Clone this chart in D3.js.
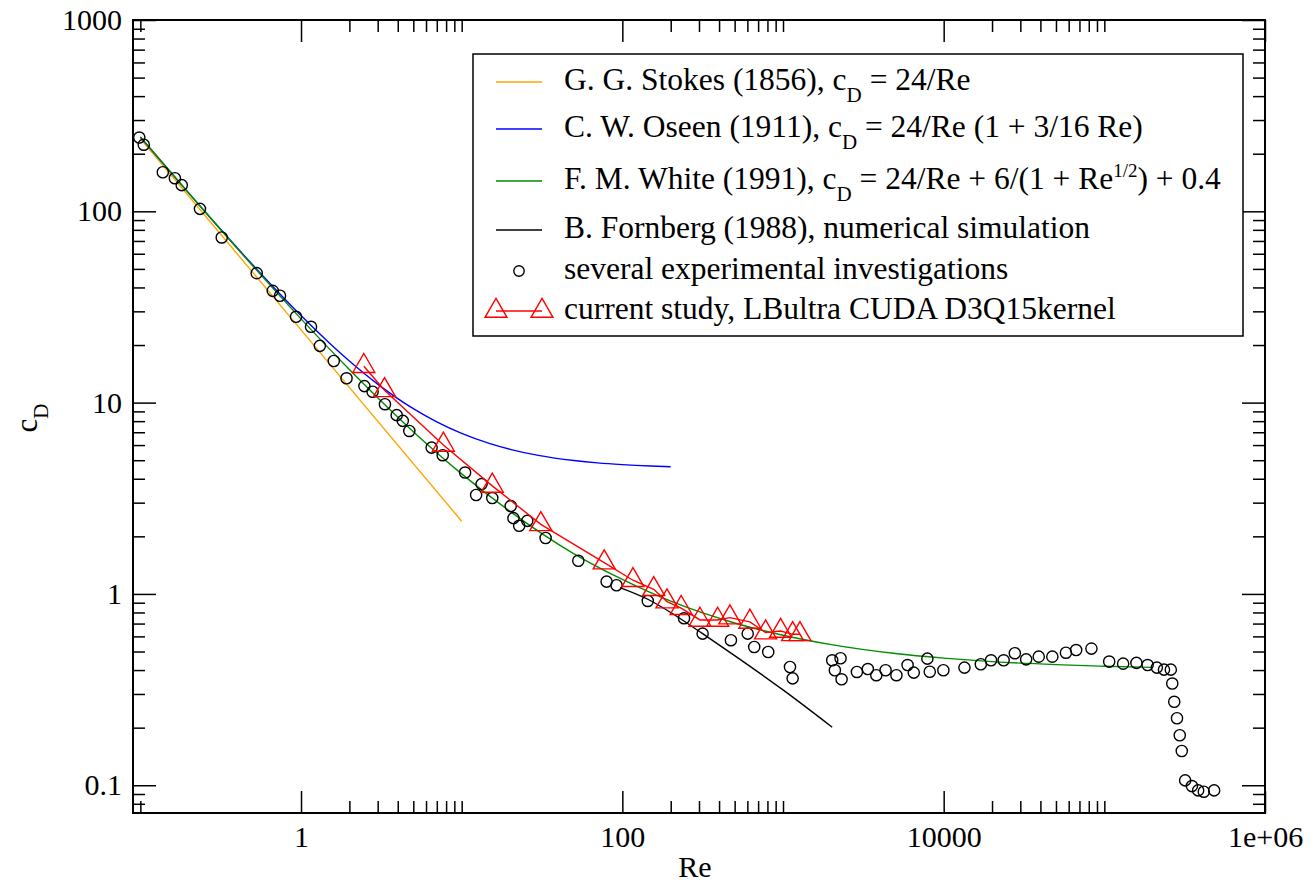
<!DOCTYPE html>
<html>
<head>
<meta charset="utf-8">
<script src="https://cdn.jsdelivr.net/npm/d3@7/dist/d3.min.js"></script>
<style>
  body { margin: 0; background: #fff; }
  svg { display: block; }
  svg text { font-family: "Liberation Serif", "Times New Roman", Tinos, "DejaVu Serif", "Noto Serif", serif !important; fill: #000; }
</style>
</head>
<body>
<svg id="chart" width="1314" height="882"></svg>
<script>
// axis ticks
const xMajorTicks = [1, 100, 10000, 1e6];
const xMajorLabels = ["1", "100", "10000", "1e+06"];
const xMinorTicks = [0.1, 2, 3, 4, 5, 6, 7, 8, 9, 10, 200, 300, 400, 500, 600, 700, 800, 900, 1000,
    20000, 30000, 40000, 50000, 60000, 70000, 80000, 90000, 100000];
const yMajorTicks = [0.1, 1, 10, 100, 1000];
const yMajorLabels = ["0.1", "1", "10", "100", "1000"];
const yMinorTicks = [0.08, 0.09, 0.2, 0.3, 0.4, 0.5, 0.6, 0.7, 0.8, 0.9, 2, 3, 4, 5, 6, 7, 8, 9,
    20, 30, 40, 50, 60, 70, 80, 90, 200, 300, 400, 500, 600, 700, 800, 900];

// G. G. Stokes
const stokesRe = [0.1, 1, 10];
const stokesCd = [240, 24, 2.4];

// C. W. Oseen
const oseenRe = [0.1, 0.2, 0.3, 0.5, 0.7, 1, 1.5, 2, 3, 5, 7, 10, 15, 20, 30, 50, 70, 100, 150, 200];
const oseenCd = [244.5, 124.5, 84.5, 52.5, 38.8, 28.5, 20.5, 16.5, 12.5, 9.3, 7.93, 6.9, 6.1, 5.7, 5.3, 4.98, 4.84, 4.74, 4.66, 4.62];

// F. M. White
const whiteRe = [0.1, 0.2, 0.5, 1, 2, 5, 10, 20, 50, 100, 200, 500, 1000, 2000, 5000, 1e4, 2e4, 5e4, 1e5, 2e5];
const whiteCd = [245, 124.6, 51.9, 27.4, 14.9, 7.05, 4.24, 2.70, 1.62, 1.19, 0.916, 0.705, 0.608, 0.543, 0.488, 0.462, 0.443, 0.427, 0.419, 0.413];

// B. Fornberg
const fornbergRe = [96.6, 144, 200, 316, 500, 1000, 2024];
const fornbergCd = [1.08, 0.938, 0.80, 0.62, 0.476, 0.315, 0.201];

// experiments (circles)
const expRe = [0.0985, 0.105, 0.138, 0.164, 0.181, 0.235, 0.321, 0.53, 0.667, 0.74, 0.931, 1.154, 1.31, 1.60, 1.92,
    2.48, 2.79, 3.33, 3.94, 4.30, 4.72, 6.50, 7.62, 10.5, 12.3, 13.3, 15.5, 20.2, 21.0, 22.8, 25.6, 33.3, 53.2,
    79.8, 92, 144, 242, 316, 474, 603, 662, 809, 1105, 1148, 2024, 2103, 2281, 2315,
    2884, 3373, 3808, 4349, 5080, 5963, 6516, 7916, 8193, 9955, 13470, 17030, 19710, 23620, 27720, 32600,
    39050, 47460, 57660, 66770, 83130, 107200, 130900, 158400, 186000, 212200, 235100, 259200, 264700,
    272300, 283300, 294700, 303400, 318400, 350800, 383500, 416000, 482400];
const expCd = [243, 223, 160, 149, 137, 103, 73, 47.5, 38.4, 36.2, 28.1, 24.9, 19.8, 16.5, 13.4,
    12.2, 11.4, 9.81, 8.6, 8.03, 7.11, 5.82, 5.31, 4.31, 3.29, 3.75, 3.17, 2.88, 2.49, 2.27, 2.41, 1.96, 1.49,
    1.16, 1.11, 0.919, 0.746, 0.62, 0.573, 0.62, 0.528, 0.497, 0.415, 0.362, 0.45, 0.399, 0.461, 0.358,
    0.391, 0.405, 0.376, 0.399, 0.376, 0.425, 0.388, 0.459, 0.392, 0.399, 0.412, 0.429, 0.45, 0.45, 0.49, 0.455,
    0.47, 0.47, 0.493, 0.509, 0.518, 0.443, 0.432, 0.436, 0.425, 0.412, 0.402, 0.402, 0.34,
    0.273, 0.224, 0.1825, 0.151, 0.106, 0.099, 0.094, 0.0925, 0.094];

// current study (triangles)
const lbRe = [2.46, 3.31, 7.69, 15.5, 31.1, 77.1, 116.4, 156.7, 189.6, 232.3, 304, 392, 467, 622, 779, 966, 1148, 1274];
const lbCd = [15.5, 11.6, 6.01, 3.67, 2.31, 1.458, 1.179, 1.058, 0.912, 0.842, 0.731, 0.731, 0.752, 0.714, 0.628, 0.640, 0.615, 0.615];

const FONT = '"Liberation Serif", "Times New Roman", Tinos, "DejaVu Serif", serif';

const margin = {top: 20, right: 49, bottom: 69, left: 133};
const svg = d3.select("#chart").attr("font-family", FONT);
const width = +svg.attr("width") - margin.left - margin.right;
const height = +svg.attr("height") - margin.top - margin.bottom;

const x = d3.scaleLog().domain([0.09, 1e6]).range([0, width]);
const y = d3.scaleLog().domain([0.0716, 1000]).range([height, 0]);

const g = svg.append("g")
    .attr("transform", "translate(" + margin.left + "," + margin.top + ")");

g.append("clipPath").attr("id", "plotClip")
    .append("rect").attr("width", width).attr("height", height);

function zip(xs, ys) {
    return xs.map((v, i) => ({re: v, cd: ys[i]}));
}

// ---- axes (ticks point inward on all four sides)
function styleAxis(sel) {
    sel.attr("font-family", FONT);
    sel.select(".domain").remove();
    sel.selectAll("line").attr("stroke", "#000").attr("stroke-width", 1.5);
    sel.selectAll("text").style("font-size", "30px").style("font-family", FONT).attr("fill", "#000");
}

g.append("g").attr("transform", "translate(0," + height + ")")
    .call(d3.axisBottom(x).tickValues(xMajorTicks).tickSize(-22).tickPadding(13)
        .tickFormat(d => xMajorLabels[xMajorTicks.indexOf(d)]))
    .call(styleAxis);
g.append("g").attr("transform", "translate(0," + height + ")")
    .call(d3.axisBottom(x).tickValues(xMinorTicks).tickSize(-12).tickFormat(""))
    .call(styleAxis);
g.append("g")
    .call(d3.axisTop(x).tickValues(xMajorTicks).tickSize(-22).tickFormat(""))
    .call(styleAxis);
g.append("g")
    .call(d3.axisTop(x).tickValues(xMinorTicks).tickSize(-12).tickFormat(""))
    .call(styleAxis);

g.append("g")
    .call(d3.axisLeft(y).tickValues(yMajorTicks).tickSize(-23).tickPadding(11)
        .tickFormat(d => yMajorLabels[yMajorTicks.indexOf(d)]))
    .call(styleAxis);
g.append("g")
    .call(d3.axisLeft(y).tickValues(yMinorTicks).tickSize(-12).tickFormat(""))
    .call(styleAxis);
g.append("g").attr("transform", "translate(" + width + ",0)")
    .call(d3.axisRight(y).tickValues(yMajorTicks).tickSize(-23).tickFormat(""))
    .call(styleAxis);
g.append("g").attr("transform", "translate(" + width + ",0)")
    .call(d3.axisRight(y).tickValues(yMinorTicks).tickSize(-12).tickFormat(""))
    .call(styleAxis);

g.append("rect")
    .attr("width", width).attr("height", height)
    .attr("fill", "none").attr("stroke", "#000").attr("stroke-width", 2);

// axis titles
g.append("text")
    .attr("x", 562).attr("y", height + 64)
    .attr("text-anchor", "middle")
    .style("font-size", "30px")
    .text("Re");

const yTitle = svg.append("text")
    .attr("transform", "translate(37,418) rotate(-90)")
    .attr("text-anchor", "middle")
    .style("font-size", "31px");
yTitle.append("tspan").text("c");
yTitle.append("tspan").attr("dy", 11).style("font-size", "21px").text("D");

// ---- curves
const plot = g.append("g").attr("clip-path", "url(#plotClip)");

const smooth = d3.line().x(d => x(d.re)).y(d => y(d.cd)).curve(d3.curveMonotoneX);
const straight = d3.line().x(d => x(d.re)).y(d => y(d.cd));

const curves = [
    {data: zip(stokesRe, stokesCd), color: "#ffa500", gen: straight},
    {data: zip(oseenRe, oseenCd), color: "#0000ff", gen: smooth},
    {data: zip(whiteRe, whiteCd), color: "#008b00", gen: smooth},
    {data: zip(fornbergRe, fornbergCd), color: "#000000", gen: smooth}
];
curves.forEach(c => {
    plot.append("path")
        .datum(c.data)
        .attr("fill", "none")
        .attr("stroke", c.color)
        .attr("stroke-width", 1.4)
        .attr("d", c.gen);
});

plot.append("g").selectAll("circle")
    .data(zip(expRe, expCd))
    .join("circle")
    .attr("cx", d => x(d.re))
    .attr("cy", d => y(d.cd))
    .attr("r", 5.6)
    .attr("fill", "none")
    .attr("stroke", "#000")
    .attr("stroke-width", 1.4);

const lbData = zip(lbRe, lbCd);
const triPath = "M0,-12.7L11,6.3L-11,6.3Z";
plot.append("path")
    .datum(lbData)
    .attr("fill", "none")
    .attr("stroke", "#ff0000")
    .attr("stroke-width", 1.4)
    .attr("d", straight);
plot.append("g").selectAll("path")
    .data(lbData)
    .join("path")
    .attr("transform", d => "translate(" + x(d.re) + "," + y(d.cd) + ")")
    .attr("d", triPath)
    .attr("fill", "none")
    .attr("stroke", "#ff0000")
    .attr("stroke-width", 1.4);

// ---- legend
const legend = svg.append("g").attr("transform", "translate(473,54)");
legend.append("rect")
    .attr("width", 770).attr("height", 282)
    .attr("fill", "#fff").attr("stroke", "#000").attr("stroke-width", 1.5);

const legendRows = [
    {y: 28, color: "#ffa500", kind: "line", parts: [["G. G. Stokes (1856), c"], ["D", "sub"], [" = 24/Re"]]},
    {y: 75, color: "#0000ff", kind: "line", parts: [["C. W. Oseen (1911), c"], ["D", "sub"], [" = 24/Re (1 + 3/16 Re)"]]},
    {y: 127, color: "#008b00", kind: "line", parts: [["F. M. White (1991), c"], ["D", "sub"], [" = 24/Re + 6/(1 + Re"], ["1/2", "sup"], [") + 0.4"]]},
    {y: 176, color: "#000000", kind: "line", parts: [["B. Fornberg (1988), numerical simulation"]]},
    {y: 217, color: "#000000", kind: "circle", parts: [["several experimental investigations"]]},
    {y: 257, color: "#ff0000", kind: "tri", parts: [["current study, LBultra CUDA D3Q15kernel"]]}
];

legendRows.forEach(row => {
    if (row.kind === "line" || row.kind === "tri") {
        legend.append("line")
            .attr("x1", 23).attr("x2", 69)
            .attr("y1", row.y).attr("y2", row.y)
            .attr("stroke", row.color).attr("stroke-width", 1.4);
    }
    if (row.kind === "circle") {
        legend.append("circle")
            .attr("cx", 46).attr("cy", row.y).attr("r", 5.2)
            .attr("fill", "none").attr("stroke", row.color).attr("stroke-width", 1.4);
    }
    if (row.kind === "tri") {
        [23, 69].forEach(px => {
            legend.append("path")
                .attr("transform", "translate(" + px + "," + row.y + ")")
                .attr("d", triPath)
                .attr("fill", "none").attr("stroke", row.color).attr("stroke-width", 1.4);
        });
    }
    const t = legend.append("text")
        .attr("x", 91).attr("y", row.y + 8)
        .style("font-size", "31.5px");
    row.parts.forEach((p, i) => {
        const span = t.append("tspan").text(p[0]);
        if (p[1] === "sub") {
            span.attr("dy", 12).style("font-size", "21px");
        } else if (p[1] === "sup") {
            span.attr("dy", -12).style("font-size", "19px");
        } else if (i > 0) {
            // back to the main baseline
            span.attr("dy", row.parts[i - 1][1] === "sub" ? -12 : 12);
        }
    });
});
</script>
</body>
</html>
